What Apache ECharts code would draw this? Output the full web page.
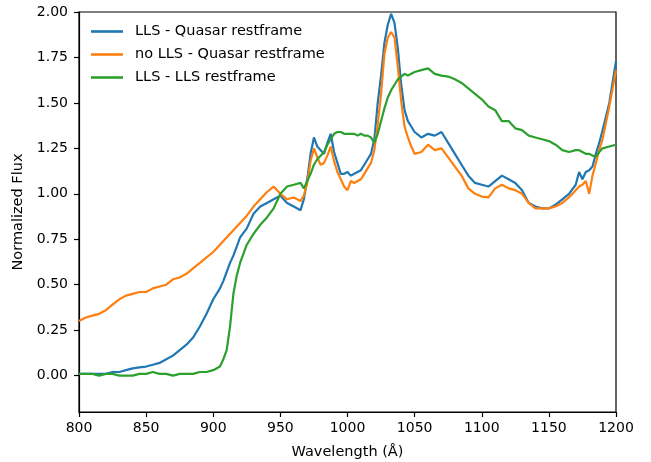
<!DOCTYPE html>
<html>
<head>
<meta charset="utf-8">
<script src="https://cdn.jsdelivr.net/npm/echarts@6/dist/echarts.min.js"></script>
<style>
html,body{margin:0;padding:0;background:#fff;}
#chart{width:651px;height:462px;}
</style>
</head>
<body>
<div id="chart"></div>
<script>
// Wavelength grid (Å)
const wavelength = [
  800,805,810,815,820,825,830,835,840,845,850,855,860,865,870,875,880,885,890,895,900,905,
  907.5,910,912.5,915,917.5,920,925,930,935,940,945,950,955,960,965,
  967.5,970,972.5,975,977.5,980,982.5,985,987.5,990,992.5,995,997.5,1000,1002.5,1005,1007.5,1010,
  1012.5,1015,1017.5,1020,1022.5,1025,1027.5,1030,1032.5,1035,1037.5,1040,1042.5,1045,1047.5,1050,
  1055,1060,1065,1070,1075,1080,1085,1090,1095,1100,1105,1110,1115,1120,1125,1130,1135,1140,1145,1150,1155,1160,1165,1170,
  1172.5,1175,1177.5,1180,1182.5,1185,1187.5,1190,1195,1200
];
// LLS - Quasar restframe
const fluxLLSQuasar = [
  0.01,0.01,0.01,0.01,0.01,0.02,0.02,0.03,0.04,0.045,0.05,0.06,0.07,0.09,0.11,0.14,0.17,0.21,0.27,0.34,0.42,0.48,
  0.52,0.57,0.62,0.66,0.71,0.76,0.81,0.89,0.93,0.95,0.97,0.99,0.95,0.93,0.91,
  0.97,1.08,1.22,1.31,1.26,1.24,1.22,1.28,1.33,1.23,1.17,1.11,1.11,1.12,1.10,1.11,1.12,1.13,
  1.16,1.19,1.22,1.30,1.50,1.65,1.83,1.93,1.99,1.94,1.80,1.60,1.46,1.40,1.37,1.34,
  1.31,1.33,1.32,1.34,1.28,1.22,1.16,1.10,1.06,1.05,1.04,1.07,1.10,1.08,1.06,1.02,0.95,0.93,0.92,0.92,0.94,0.97,1.00,1.05,
  1.12,1.08,1.12,1.13,1.15,1.22,1.28,1.35,1.50,1.73
];
// no LLS - Quasar restframe
const fluxNoLLSQuasar = [
  0.30,0.32,0.33,0.34,0.36,0.39,0.42,0.44,0.45,0.46,0.46,0.48,0.49,0.50,0.53,0.54,0.56,0.59,0.62,0.65,0.68,0.72,
  0.74,0.76,0.78,0.80,0.82,0.84,0.88,0.93,0.97,1.01,1.04,1.00,0.97,0.98,0.96,
  0.99,1.06,1.18,1.25,1.20,1.16,1.17,1.21,1.26,1.18,1.12,1.08,1.04,1.02,1.07,1.06,1.07,1.08,
  1.11,1.14,1.17,1.24,1.38,1.55,1.77,1.86,1.89,1.86,1.70,1.51,1.37,1.31,1.26,1.22,
  1.23,1.27,1.24,1.25,1.20,1.15,1.10,1.03,1.00,0.985,0.98,1.03,1.05,1.03,1.02,1.00,0.95,0.92,0.92,0.92,0.93,0.95,0.98,1.02,
  1.04,1.05,1.07,1.00,1.10,1.17,1.24,1.30,1.48,1.68
];
// LLS - LLS restframe
const fluxLLSRest = [
  0.01,0.01,0.01,0.00,0.01,0.01,0.00,0.00,0.00,0.01,0.01,0.02,0.01,0.01,0.00,0.01,0.01,0.01,0.02,0.02,0.03,0.05,
  0.09,0.14,0.27,0.45,0.55,0.62,0.72,0.78,0.83,0.87,0.92,1.00,1.04,1.05,1.06,
  1.03,1.07,1.11,1.16,1.19,1.21,1.23,1.27,1.30,1.33,1.34,1.34,1.33,1.33,1.33,1.33,1.32,1.33,
  1.32,1.32,1.31,1.28,1.33,1.40,1.47,1.53,1.57,1.60,1.63,1.645,1.66,1.65,1.66,1.67,
  1.68,1.69,1.66,1.65,1.645,1.63,1.61,1.58,1.55,1.52,1.48,1.46,1.40,1.40,1.36,1.35,1.32,1.31,1.30,1.29,1.27,1.24,1.23,1.24,
  1.24,1.23,1.22,1.22,1.21,1.205,1.23,1.25,1.26,1.27
];
const seriesNames = ['LLS - Quasar restframe', 'no LLS - Quasar restframe', 'LLS - LLS restframe'];
const xTicks = [800, 850, 900, 950, 1000, 1050, 1100, 1150, 1200];
const yTicks = [0, 0.25, 0.5, 0.75, 1.0, 1.25, 1.5, 1.75, 2.0];

const FONT = 'DejaVu Sans';
const colors = ['#1f77b4', '#ff7f0e', '#2ca02c'];
const zip = (ys) => wavelength.map((w, i) => [w, ys[i]]);
const LINE_ICON = 'path://M0,0H32V2.6H0Z';

const chart = echarts.init(document.getElementById('chart'), null, {renderer: 'canvas'});
chart.setOption({
  animation: false,
  backgroundColor: '#fff',
  grid: {
    left: 79, right: 35, top: 12, bottom: 50,
    show: true, borderColor: '#000', borderWidth: 1.2, backgroundColor: 'transparent',
    containLabel: false, outerBoundsMode: 'none'
  },
  legend: {
    orient: 'vertical', left: 91, top: 24, padding: 0,
    itemWidth: 32, itemHeight: 14, itemGap: 8,
    symbolKeepAspect: true,
    data: seriesNames.map(n => ({name: n, icon: LINE_ICON})),
    textStyle: {fontFamily: FONT, fontSize: 14.5, color: '#000', padding: [0, 0, 0, 7]}
  },
  xAxis: {
    type: 'value', min: 800, max: 1200, interval: 50,
    name: 'Wavelength (Å)', nameLocation: 'middle', nameGap: 33,
    nameTextStyle: {fontFamily: FONT, fontSize: 14.5, color: '#000'},
    axisLine: {show: true, onZero: false, lineStyle: {color: '#000', width: 1.2}},
    axisTick: {show: true, inside: false, length: 5, lineStyle: {color: '#000', width: 1.2}},
    axisLabel: {fontFamily: FONT, fontSize: 14, color: '#000', margin: 9,
      customValues: xTicks, formatter: (v) => String(Math.round(v))},
    splitLine: {show: false}
  },
  yAxis: {
    type: 'value', min: -0.2, max: 2.0,
    name: 'Normalized Flux', nameLocation: 'middle', nameGap: 53, nameRotate: 90,
    nameTextStyle: {fontFamily: FONT, fontSize: 14.5, color: '#000'},
    axisLine: {show: true, onZero: false, lineStyle: {color: '#000', width: 1.2}},
    axisTick: {show: true, inside: false, length: 5, lineStyle: {color: '#000', width: 1.2},
      customValues: yTicks},
    axisLabel: {fontFamily: FONT, fontSize: 14, color: '#000', margin: 11,
      customValues: yTicks, formatter: (v) => Number(v).toFixed(2)},
    splitLine: {show: false}
  },
  series: [
    {name: seriesNames[0], type: 'line', data: zip(fluxLLSQuasar), showSymbol: false, symbol: 'none',
      color: colors[0], lineStyle: {width: 2.2, color: colors[0]}, z: 2},
    {name: seriesNames[1], type: 'line', data: zip(fluxNoLLSQuasar), showSymbol: false, symbol: 'none',
      color: colors[1], lineStyle: {width: 2.2, color: colors[1]}, z: 3},
    {name: seriesNames[2], type: 'line', data: zip(fluxLLSRest), showSymbol: false, symbol: 'none',
      color: colors[2], lineStyle: {width: 2.2, color: colors[2]}, z: 4}
  ]
});
</script>
</body>
</html>
